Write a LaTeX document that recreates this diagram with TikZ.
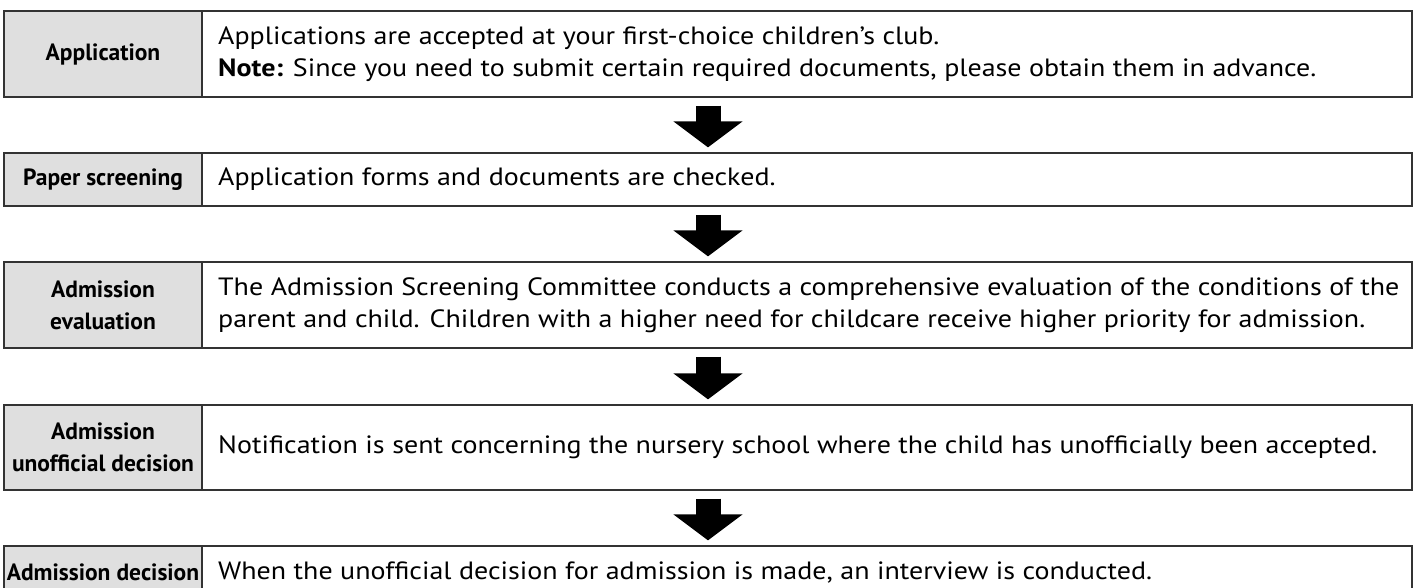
\documentclass[tikz,border=0pt]{standalone}
\usepackage{fontspec}
\setmainfont{PT Sans}
\newfontfamily\bodyfont[FakeStretch=1.12]{PT Sans}
\usetikzlibrary{arrows.meta}
\begin{document}
\begin{tikzpicture}[x=1pt,y=-1pt,
  rowbox/.style={draw=black!80, line width=1.3pt, minimum width=1408pt, inner sep=0pt},
  labelbox/.style={draw=black!80, line width=1.3pt, fill=gray!25, minimum width=198pt, inner sep=0pt, align=center, font=\fontsize{23.5}{32}\selectfont\bfseries},
  desc/.style={anchor=west, inner sep=0pt, align=left, font=\bodyfont\fontsize{25}{32}\selectfont},
  flow/.style={line width=25pt, black, -{Triangle[width=68pt,length=26pt]}, shorten <=8pt, shorten >=5pt}]
\useasboundingbox (0,0) rectangle (1417,588);
% rows
\node[rowbox, minimum height=86pt] (r1) at (708,54) {};
\node[labelbox, minimum height=86pt] (l1) at (103,54) {Application};
\node[desc] (d1) at (218,54) {Applications are accepted at your first-choice children’s club.\\\textbf{Note:} Since you need to submit certain required documents, please obtain them in advance.};

\node[rowbox, minimum height=53pt] (r2) at (708,179.5) {};
\node[labelbox, minimum height=53pt] (l2) at (103,179.5) {Paper screening};
\node[desc] (d2) at (218,179.5) {Application forms and documents are checked.};

\node[rowbox, minimum height=86pt] (r3) at (708,305) {};
\node[labelbox, minimum height=86pt] (l3) at (103,305) {Admission\\evaluation};
\node[desc] (d3) at (218,305) {The Admission Screening Committee conducts a comprehensive evaluation of the conditions of the\\parent and child. Children with a higher need for childcare receive higher priority for admission.};

\node[rowbox, minimum height=85pt] (r4) at (708,447.5) {};
\node[labelbox, minimum height=85pt] (l4) at (103,447.5) {Admission\\unofficial decision};
\node[desc] (d4) at (218,447.5) {Notification is sent concerning the nursery school where the child has unofficially been accepted.};

\node[rowbox, minimum height=53pt] (r5) at (708,572.5) {};
\node[labelbox, minimum height=53pt] (l5) at (103,572.5) {Admission decision};
\node[desc] (d5) at (218,572.5) {When the unofficial decision for admission is made, an interview is conducted.};

% arrows
\draw[flow] (r1.south) -- (r2.north);
\draw[flow] (r2.south) -- (r3.north);
\draw[flow] (r3.south) -- (r4.north);
\draw[flow] (r4.south) -- (r5.north);
\end{tikzpicture}
\end{document}
